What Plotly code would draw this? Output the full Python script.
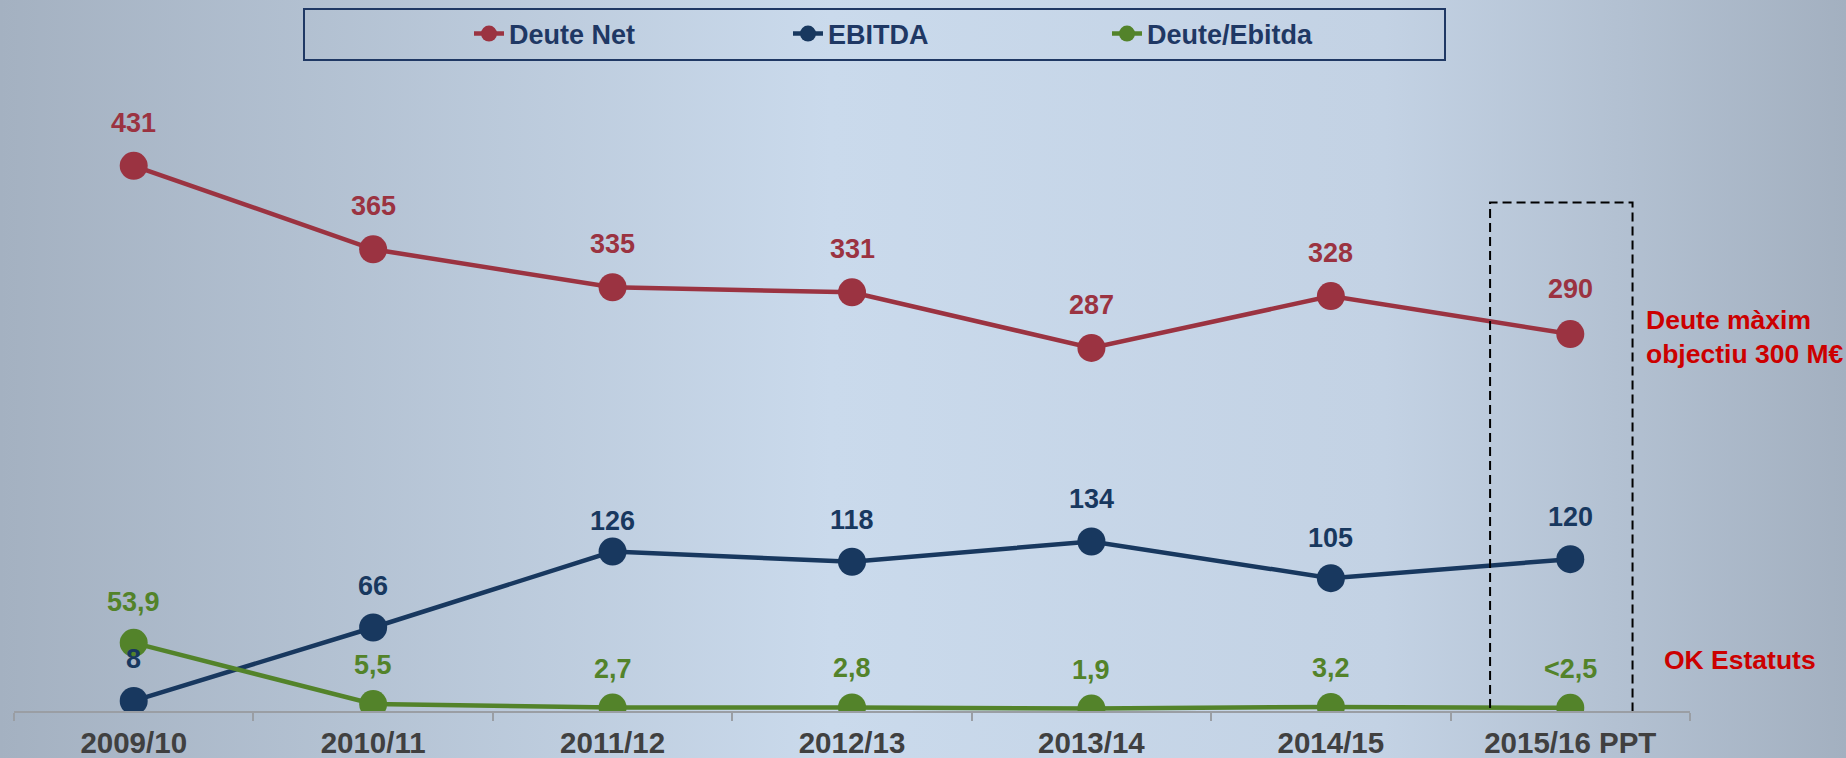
import plotly.graph_objects as go


FONT_FAMILY = "Arial, Liberation Sans, sans-serif"
CATEGORIES = ["2009/10", "2010/11", "2011/12", "2012/13", "2013/14", "2014/15", "2015/16 PPT"]

# Values (M€ and ratio share one axis)
SERIES = [
    dict(
        label="Deute Net",
        values=[431, 365, 335, 331, 287, 328, 298],
        texts=["431", "365", "335", "331", "287", "328", "290"],
        color="#9B3341",
        shift=[43, 43, 43, 43, 43, 43, 45],
    ),
    dict(
        label="EBITDA",
        values=[8, 66, 126, 118, 134, 105, 120],
        texts=["8", "66", "126", "118", "134", "105", "120"],
        color="#18385F",
        shift=[42, 42, 31, 42, 42, 40, 42],
    ),
    dict(
        label="Deute/Ebitda",
        values=[53.9, 5.5, 2.7, 2.8, 1.9, 3.2, 2.5],
        texts=["53,9", "5,5", "2,7", "2,8", "1,9", "3,2", "<2,5"],
        color="#53832A",
        shift=[41, 39, 39, 39, 39, 39, 39],
    ),
]


def _add_background(fig: go.Figure) -> None:
    """
    Paint the slide-like gradient behind the chart (drawn on its own subplot).
    """
    fig.add_trace(
        go.Scatter(
            x=[0, 1, 1, 0, 0],
            y=[0, 0, 1, 1, 0],
            mode="lines",
            line=dict(width=0),
            fill="toself",
            fillgradient=dict(
                type="horizontal",
                colorscale=[[0, "#A4B1C1"], [0.45, "#CADAEC"], [0.75, "#C3D2E4"], [1, "#A3B0C0"]],
            ),
            hoverinfo="skip",
            showlegend=False,
            xaxis="x",
            yaxis="y",
        )
    )


def plot_debt_chart(width: int = 1846, height: int = 758) -> go.Figure:
    """
    Plot net debt, EBITDA and their ratio per season.

    Parameters
    ----------
    width : int, optional
        Figure width in pixels.
    height : int, optional
        Figure height in pixels.

    Returns
    -------
    go.Figure
    """
    fig = go.Figure()
    _add_background(fig)

    for s in SERIES:
        fig.add_trace(
            go.Scatter(
                x=CATEGORIES,
                y=s["values"],
                mode="lines+markers",
                name=s["label"],
                line=dict(color=s["color"], width=4.5),
                marker=dict(color=s["color"], size=28),
                xaxis="x2",
                yaxis="y2",
            )
        )
        # Value labels above each point
        for cat, val, txt, dy in zip(CATEGORIES, s["values"], s["texts"], s["shift"]):
            fig.add_annotation(
                x=cat,
                y=val,
                xref="x2",
                yref="y2",
                text=txt,
                showarrow=False,
                yshift=dy,
                font=dict(family=FONT_FAMILY, size=27, color=s["color"], weight="bold"),
            )

    # Dashed box around the budget season
    fig.add_shape(
        type="rect",
        xref="x2",
        yref="y2",
        x0=5.665,
        x1=6.26,
        y0=-9.5,
        y1=402,
        line=dict(color="black", width=2, dash="9px,5px"),
    )
    # Legend frame
    fig.add_shape(
        type="rect",
        xref="paper",
        yref="paper",
        x0=304 / width,
        x1=1445 / width,
        y0=1 - 60 / height,
        y1=1 - 9 / height,
        line=dict(color="#1F3864", width=2),
    )

    note_font = dict(family=FONT_FAMILY, size=26.5, color="#CC0000", weight="bold")
    fig.add_annotation(
        x=1644 / width, y=1 - 337 / height, xref="paper", yref="paper",
        text="Deute màxim<br>objectiu 300 M€", showarrow=False, align="left",
        xanchor="left", yanchor="middle", font=note_font,
    )
    fig.add_annotation(
        x=1662 / width, y=1 - 660 / height, xref="paper", yref="paper",
        text="OK Estatuts", showarrow=False, align="left",
        xanchor="left", yanchor="middle", font=note_font,
    )

    fig.update_layout(
        width=width,
        height=height,
        margin=dict(l=0, r=0, t=0, b=0),
        paper_bgcolor="#B8C6D7",
        plot_bgcolor="rgba(0,0,0,0)",
        showlegend=True,
        hovermode=False,
        xaxis=dict(domain=[0, 1], range=[0, 1], visible=False, fixedrange=True),
        yaxis=dict(domain=[0, 1], range=[0, 1], visible=False, fixedrange=True),
        xaxis2=dict(
            domain=[14 / width, 1690 / width],
            anchor="y2",
            type="category",
            range=[-0.5, 6.5],
            showline=True,
            linecolor="#9A9EA4",
            linewidth=2,
            ticks="outside",
            tickson="boundaries",
            ticklen=8,
            tickwidth=2,
            tickcolor="#9A9EA4",
            showgrid=False,
            zeroline=False,
            ticklabelstandoff=5,
            tickfont=dict(family=FONT_FAMILY, size=29.5, color="#404040", weight="bold"),
        ),
        yaxis2=dict(
            domain=[47 / height, 1],
            anchor="x2",
            range=[0, 711 / 1.265],
            visible=False,
        ),
        legend=dict(
            orientation="h",
            x=469 / width,
            y=1 - 34 / height,
            xanchor="left",
            yanchor="middle",
            bgcolor="rgba(0,0,0,0)",
            entrywidth=274,
            font=dict(family=FONT_FAMILY, size=27, color="#1F3864", weight="bold"),
        ),
    )

    return fig


fig = plot_debt_chart()
# page margin off so the figure fills the window; no modebar
fig.write_html(
    "out.html",
    config={"displayModeBar": False},
    post_script="document.body.style.margin = '0';",
)
